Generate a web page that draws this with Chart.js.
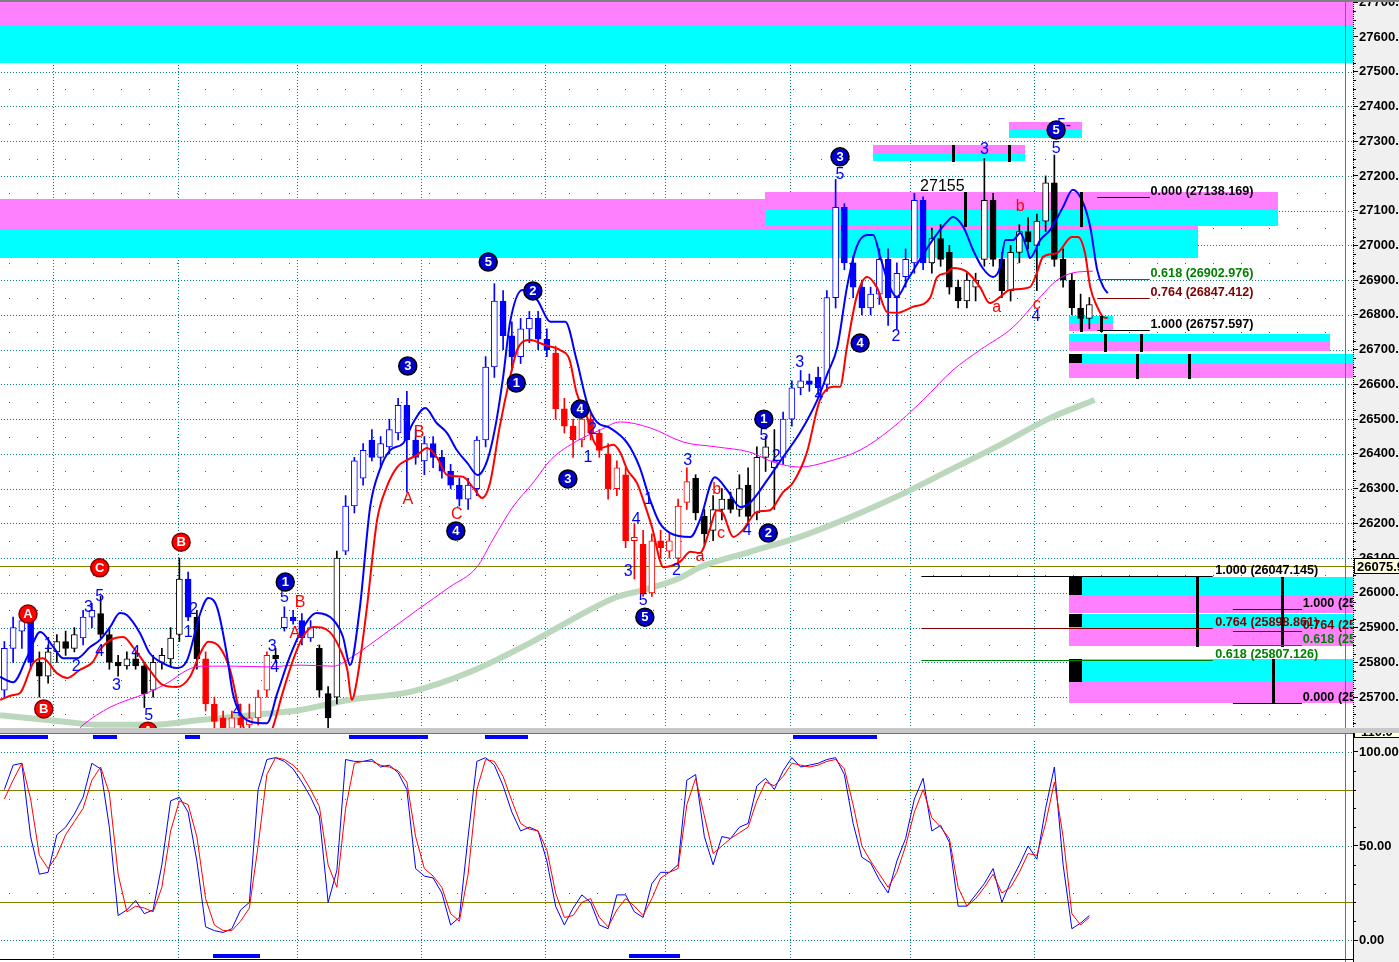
<!DOCTYPE html>
<html>
<head>
<meta charset="utf-8">
<script src="https://cdn.jsdelivr.net/npm/chart.js@4.4.1/dist/chart.umd.min.js"></script>
<style>
  html, body { margin: 0; padding: 0; width: 1399px; height: 962px; overflow: hidden; background: #c8c8c8; }
  #topline { position: absolute; left: 0; top: 0; width: 1399px; height: 2px; background: #808080; }
  #c1 { position: absolute; left: 0; top: 2px; }
  #c2 { position: absolute; left: 0; top: 733px; }
</style>
</head>
<body>
<div id="topline"></div>
<canvas id="c1" width="1399" height="726"></canvas>
<canvas id="c2" width="1399" height="229"></canvas>
<script>
'use strict';

// ── Price bars (one entry per bar) ───────────────────────────────────────────
const opens  = [25720,25840,25890,25920,25800,25760,25830,25860,25840,25870,25930,25940,25880,25800,25790,25810,25790,25720,25800,25810,
                25880,26040,25930,25810,25680,25640,25610,25640,25620,25640,25720,25820,25900,25930,25920,25870,25840,25710,25700,26120,
                26250,26330,26440,26390,26420,26460,26540,26440,26380,26430,26390,26350,26310,26270,26300,26440,26650,26840,26740,26680,
                26760,26790,26730,26690,26530,26480,26440,26500,26460,26400,26300,26340,26150,26140,26000,26150,26120,26100,26260,26330,
                26220,26180,26240,26270,26240,26310,26230,26390,26360,26390,26500,26590,26610,26620,26600,26850,27110,26950,26880,26820,
                26860,26960,26850,26910,26950,27130,26950,27020,26980,26880,26840,26880,26960,27130,26960,26870,26980,27040,27000,27070,
                27180,26960,26900,26820,26790];
const highs  = [25860,25930,25950,25940,25830,25850,25880,25890,25900,25950,25970,25990,25900,25820,25830,25830,25800,25820,25840,25900,
                26100,26060,25950,25830,25700,25660,25660,25680,25680,25720,25830,25840,25960,25950,25940,25920,25850,25730,26120,26280,
                26390,26430,26470,26450,26500,26560,26580,26470,26450,26450,26410,26370,26330,26330,26450,26680,26890,26870,26780,26790,
                26810,26810,26760,26710,26560,26500,26520,26520,26470,26430,26380,26360,26200,26180,26170,26180,26170,26270,26360,26340,
                26240,26280,26300,26290,26340,26360,26420,26450,26470,26520,26610,26640,26630,26650,26870,27190,27120,26970,26900,26880,
                26990,26990,26950,26990,27150,27140,27050,27060,27000,26900,26920,26920,27250,27150,26980,27000,27060,27080,27090,27200,
                27260,26990,26920,26860,26850];
const lows   = [25700,25800,25840,25780,25700,25740,25800,25820,25830,25850,25900,25870,25780,25760,25780,25780,25670,25700,25780,25790,
                25860,25920,25780,25660,25610,25590,25580,25600,25600,25620,25700,25800,25890,25910,25850,25860,25700,25600,25680,26110,
                26230,26310,26380,26360,26400,26440,26290,26370,26340,26360,26330,26300,26250,26240,26280,26420,26620,26700,26640,26660,
                26720,26700,26680,26500,26460,26390,26420,26440,26390,26270,26280,26130,26040,25990,25990,26100,26100,26080,26240,26210,
                26140,26150,26210,26230,26220,26200,26210,26350,26240,26370,26480,26570,26580,26570,26580,26820,26930,26850,26800,26800,
                26830,26770,26760,26880,26920,26930,26920,26940,26860,26820,26820,26840,26940,26940,26850,26840,26950,26990,26870,27040,
                26940,26880,26800,26760,26760];
const closes = [25840,25900,25920,25800,25760,25830,25860,25840,25880,25930,25950,25880,25800,25790,25810,25790,25710,25800,25820,25870,
                26040,25930,25810,25680,25630,25610,25640,25620,25640,25700,25820,25810,25930,25920,25870,25900,25720,25640,26100,26250,
                26380,26410,26390,26430,26470,26540,26440,26390,26430,26390,26350,26310,26270,26310,26440,26650,26840,26740,26680,26760,
                26790,26730,26700,26530,26480,26440,26500,26460,26410,26300,26360,26150,26160,26000,26150,26130,26150,26250,26320,26230,
                26170,26240,26270,26240,26300,26220,26390,26420,26380,26500,26590,26610,26600,26590,26850,27110,26950,26880,26820,26860,
                26960,26850,26920,26960,27130,26950,27020,26960,26880,26840,26900,26900,27130,26960,26870,26980,27040,27010,27070,27180,
                26960,26900,26820,26790,26830];

// ── Moving averages: [bar, price] ────────────────────────────────────────────
const fastAvg = [[-0.5,25758],[1.0,25743],[2.6,25815],[4.1,25887],[5.6,25844],[6.7,25812],[8.3,25812],[9.8,25844],[10.9,25864],[12.1,25902],
  [13.2,25942],[14.0,25936],[15.5,25884],[16.6,25827],[18.1,25798],[19.7,25784],[20.9,25807],[22.4,25942],[23.3,25985],[24.3,25959],
  [25.4,25827],[26.1,25712],[27.7,25634],[29.6,25625],[30.0,25625],[31.2,25712],[32.6,25815],[33.8,25884],[35.7,25942],[37.6,25922],
  [38.7,25873],[39.5,25792],[40.6,25951],[41.8,26247],[42.9,26354],[44.1,26411],[45.6,26431],[46.7,26489],[48.1,26532],[49.4,26489],
  [50.6,26460],[51.7,26411],[52.9,26374],[54.1,26339],[55.2,26382],[56.1,26477],[57.0,26621],[57.8,26780],[59.2,26872],[60.9,26843],
  [62.4,26780],[64.1,26780],[65.4,26670],[66.6,26547],[67.7,26492],[69.2,26475],[71.2,26431],[72.6,26362],[73.8,26267],[74.9,26201],
  [76.1,26172],[78.4,26161],[79.5,26210],[81.2,26333],[82.6,26296],[84.1,26247],[85.2,26259],[87.2,26325],[89.0,26391],[90.9,26460],
  [92.9,26555],[94.1,26633],[95.2,26708],[96.3,26880],[97.4,26996],[98.6,27030],[99.3,27030],[100.1,26967],[101.2,26880],[102.0,26852],
  [103.2,26900],[104.6,26958],[106.1,27016],[107.7,27067],[108.4,27082],[109.6,27053],[110.7,26987],[111.8,26935],[113.0,26909],[113.8,26938],
  [114.4,27016],[115.3,27016],[116.1,27036],[116.9,26987],[117.2,26964],[118.4,27016],[119.5,27044],[121.0,27111],[122.1,27160],[123.3,27122],
  [124.1,27053],[124.9,26929],[125.6,26880],[126.1,26863]];
const slowAvg = [[-0.5,25692],[1.0,25706],[1.8,25712],[3.3,25798],[4.4,25812],[6.0,25769],[7.2,25755],[8.6,25778],[10.1,25801],[10.9,25836],
  [12.1,25864],[13.6,25873],[14.7,25844],[16.6,25778],[18.1,25735],[19.7,25729],[21.2,25758],[22.4,25827],[23.3,25859],[24.6,25844],
  [25.8,25778],[26.9,25654],[27.8,25576],[29.2,25519],[30.7,25614],[31.8,25712],[33.0,25807],[34.1,25873],[35.3,25902],[37.2,25887],
  [38.4,25836],[39.2,25778],[39.7,25692],[40.3,25749],[41.4,25951],[42.6,26210],[43.7,26305],[44.9,26362],[46.0,26382],[47.2,26397],
  [48.3,26417],[49.4,26391],[50.6,26339],[52.4,26334],[53.6,26302],[54.6,26273],[55.5,26316],[56.6,26477],[57.8,26621],[58.6,26699],
  [60.1,26728],[61.8,26713],[63.5,26699],[64.6,26670],[65.4,26575],[66.6,26506],[67.3,26440],[68.1,26417],[69.6,26426],[70.4,26403],
  [71.2,26354],[72.3,26316],[73.4,26238],[74.1,26181],[74.9,26095],[75.3,26074],[77.2,26089],[78.4,26118],[79.5,26115],[80.6,26181],
  [81.4,26238],[82.1,26230],[83.3,26161],[84.4,26181],[86.0,26233],[87.5,26238],[89.0,26290],[90.1,26316],[91.7,26403],[93.2,26555],
  [94.7,26593],[95.5,26593],[96.3,26708],[97.4,26852],[98.6,26909],[99.7,26880],[100.9,26808],[102.0,26806],[103.8,26823],[105.8,26849],
  [106.6,26909],[107.7,26921],[108.4,26935],[110.0,26924],[111.5,26880],[112.6,26834],[113.8,26852],[114.9,26872],[117.2,26880],[118.0,26921],
  [118.7,26967],[120.3,26978],[122.0,27024],[122.7,27024],[123.5,26978],[124.1,26880],[124.9,26823],[125.6,26794],[126.1,26791]];
const midAvg = [[8.2,25600],[9.0,25620],[12.1,25671],[16.3,25712],[18.6,25740],[20.9,25778],[22.4,25789],[26.1,25789],[30.0,25787],[33.8,25792],
  [37.6,25789],[39.5,25812],[43.3,25879],[47.2,25951],[50.9,26017],[54.0,26074],[55.8,26152],[58.1,26247],[60.4,26316],[62.4,26382],
  [65.0,26431],[68.1,26469],[70.4,26492],[73.8,26475],[77.6,26434],[81.4,26420],[85.2,26405],[87.8,26377],[90.9,26362],[94.0,26377],
  [97.8,26411],[101.2,26469],[105.0,26555],[108.4,26641],[111.5,26699],[115.3,26765],[118.4,26852],[120.3,26900],[122.1,26921],[124.4,26926]];
const longAvg = [[-0.5,25648],[7.2,25628],[10.9,25620],[16.6,25620],[22.4,25634],[28.1,25648],[33.8,25663],[39.5,25692],[46.4,25715],[53.2,25772],
  [60.1,25856],[66.9,25951],[70.0,25988],[73.0,26008],[77.2,26043],[79.5,26074],[85.2,26118],[90.9,26161],[97.8,26230],[102.4,26282],
  [108.1,26354],[113.8,26426],[119.5,26503],[124.6,26555]];

// ── Stochastic (one entry per bar) ───────────────────────────────────────────
const stochK = [80,93,94,55,35,36,56,60,67,76,94,91,60,13,16,21,14,16,40,74,
                76,68,42,7,5,4,6,16,20,80,96,97,95,91,84,76,66,20,37,96,
                95,95,96,92,93,89,80,38,34,33,25,8,12,55,95,97,93,82,68,58,
                60,58,42,18,8,17,24,20,8,6,24,24,15,12,30,36,36,40,85,88,
                55,40,55,54,60,62,82,86,80,90,97,92,93,94,96,97,88,62,44,41,
                32,25,42,54,75,86,58,61,52,18,18,24,30,38,20,31,40,50,43,70,
                92,40,6,9,13];
const stochD = [75,85,94,75,45,38,45,56,63,70,85,92,78,35,15,18,17,15,28,58,
                74,72,55,22,8,5,5,10,17,50,88,97,96,93,88,80,71,40,28,70,
                94,95,95,93,92,90,84,55,38,34,28,14,10,35,80,96,95,87,74,62,
                59,58,48,25,12,13,20,22,12,7,16,22,18,13,22,33,36,38,72,86,
                66,46,50,54,57,60,74,84,82,87,94,93,92,93,95,96,91,72,50,42,
                35,28,36,50,68,80,65,60,54,28,18,22,28,35,25,28,36,46,45,62,
                84,55,14,8,12];

// ── Axes ─────────────────────────────────────────────────────────────────────
const priceTicks = [25700,25800,25900,26000,26100,26200,26300,26400,26500,26600,26700,
                    26800,26900,27000,27100,27200,27300,27400,27500,27600,27700];
const stochTicks = [0, 50, 100];
const stochBands = [20, 80];
const gridBars   = [5.6, 19.8, 33.4, 47.6, 61.8, 75.5, 89.8, 103.5, 117.7];
const lastPrice  = 26075.9;
const nowBar     = 153.2;

// ── Zones: [kind, fromBar, toBar, low, high]  (m = magenta, c = cyan, k = black)
const zones = [
  ['m', -0.5, 155, 27635, 27710], ['c', -0.5, 155, 27525, 27635],
  ['m', -0.5, 136.4, 27048, 27134], ['c', -0.5, 136.4, 26964, 27048],
  ['m', 86.9, 145.6, 27105, 27154], ['c', 86.9, 145.6, 27056, 27105],
  ['m', 99.3, 116.6, 27266, 27289], ['c', 99.3, 116.6, 27243, 27266],
  ['m', 114.8, 123.2, 27332, 27355], ['c', 114.8, 123.2, 27309, 27332],
  ['c', 121.7, 126.7, 26777, 26797], ['m', 121.7, 126.7, 26754, 26777],
  ['c', 121.7, 151.5, 26722, 26745], ['m', 121.7, 151.5, 26696, 26722],
  ['c', 121.7, 155, 26662, 26688], ['m', 121.7, 155, 26618, 26662], ['k', 121.7, 123.2, 26662, 26688],
  ['c', 121.7, 155, 25994, 26046], ['m', 121.7, 155, 25942, 25994], ['k', 121.7, 123.2, 25994, 26046],
  ['c', 121.7, 155, 25902, 25939], ['m', 121.7, 155, 25847, 25902], ['k', 121.7, 123.2, 25902, 25939],
  ['c', 121.7, 155, 25743, 25810], ['m', 121.7, 155, 25683, 25743], ['k', 121.7, 123.2, 25743, 25810],
];
// thick markers: [bar, low, high]
const stems = [[108.4,27240,27289],[114.8,27240,27289],[109.8,27053,27154],[123.0,27053,27154],
               [123.0,26751,26797],[125.3,26751,26797],[125.8,26693,26745],[129.9,26693,26745],
               [129.4,26616,26688],[135.4,26616,26688],[136.3,25844,26046],[146.0,25844,26046],[145.0,25683,25810]];

// ── Fibonacci levels ─────────────────────────────────────────────────────────
const fibUpperRatios = ['0.000', '0.618', '0.764', '1.000'];
const fibUpperPrices = [27138.169, 26902.976, 26847.412, 26757.597];
const fibLowerRatios = ['1.000', '0.764', '0.618'];
const fibLowerPrices = [26047.145, 25898.861, 25807.126];
const fibSideRatios  = ['1.000', '0.764', '0.618', '0.000'];
const fibSidePrices  = [25953.310, 25890.474, 25850.062, 25683.540];

// ── Wave labels: [bar, price, text] ──────────────────────────────────────────
const blueCircles = [[32.1,26031,'1'],[46.1,26653,'3'],[51.6,26178,'4'],[55.3,26952,'5'],[58.5,26604,'1'],[60.4,26869,'2'],
                     [64.4,26328,'3'],[65.8,26529,'4'],[73.2,25930,'5'],[86.8,26500,'1'],[87.3,26172,'2'],[95.5,27255,'3'],
                     [97.8,26719,'4'],[120.2,27332,'5']];
const redCircles  = [[2.7,25939,'A'],[4.5,25666,'B'],[10.9,26072,'C'],[20.2,26146,'B'],[16.4,25602,'A']];
const blueMarks   = [[5.0,25850,'1'],[8.2,25787,'2'],[9.6,25959,'3'],[10.9,25988,'5'],[10.9,25830,'4'],[12.8,25732,'3'],
                     [15.0,25827,'4'],[16.5,25648,'5'],[21.0,25887,'1'],[21.6,25951,'2'],[26.6,25657,'4'],[30.6,25844,'3'],
                     [30.9,25784,'4'],[32.0,25985,'5'],[67.2,26469,'2'],[66.7,26388,'1'],[73.6,26267,'1'],[72.2,26210,'4'],
                     [71.3,26060,'3'],[73.0,25979,'5'],[76.8,26063,'2'],[78.1,26382,'3'],[84.9,26178,'4'],[86.8,26454,'5'],
                     [88.2,26391,'2'],[90.9,26664,'3'],[93.1,26569,'4'],[95.5,27203,'5'],[101.9,26739,'2'],[112.0,27275,'3'],
                     [117.9,26794,'4'],[120.2,27280,'5'],[121.1,27344,'5-']];
const redMarks    = [[33.2,25884,'A'],[33.8,25971,'B'],[46.1,26267,'A'],[47.4,26460,'B'],[51.7,26224,'C'],[79.5,26103,'a'],
                     [81.4,26296,'b'],[81.9,26172,'c'],[113.4,26820,'a'],[116.1,27111,'b'],[118.0,26831,'c']];
const priceNotes  = [[107.2,27168,'27155']];

// ── Cycle markers: [fromBar, toBar] ──────────────────────────────────────────
const topCycles    = [[-0.5,5.0],[10.1,12.9],[20.6,22.4],[39.4,48.4],[54.9,59.8],[90.1,99.7]];
const bottomCycles = [[23.8,29.2],[71.4,77.2]];

// ── Styles ───────────────────────────────────────────────────────────────────
const FONT = '"Liberation Sans", Arial, sans-serif';
const BLUE = '#0000ff', RED = '#ff0000', BLACK = '#000000';
const candleSegments = [[0,3,BLUE],[4,8,BLACK],[9,10,BLUE],[11,20,BLACK],[21,21,BLUE],[22,22,BLACK],[23,30,RED],
                        [31,31,BLACK],[32,35,BLUE],[36,38,BLACK],[39,62,BLUE],[63,78,RED],[79,88,BLACK],[89,105,BLUE],[106,124,BLACK]];
const zoneFill   = { m: '#ff80ff', c: '#00ffff', k: '#000000' };
const fibColour  = { '0.000': '#000000', '1.000': '#000000', '0.618': '#008000', '0.764': '#800000' };

Chart.defaults.font.family = FONT;

function candleColor(i) {
  const s = candleSegments.find(s => i >= s[0] && i <= s[1]);
  return s ? s[2] : BLACK;
}

function dotRow(ctx, x0, x1, y, step) {
  y = Math.round(y);
  for (let x = x0; x < x1; x += step) ctx.fillRect(Math.round(x), y, 1, 1);
}
function dotCol(ctx, x, y0, y1, step) {
  x = Math.round(x);
  for (let y = y0; y < y1; y += step) ctx.fillRect(x, Math.round(y), 1, 1);
}
function clipArea(ctx, a) {
  ctx.beginPath(); ctx.rect(a.left, a.top, a.right - a.left, a.bottom - a.top); ctx.clip();
}
function circleLabel(ctx, x, y, txt, fill, ring) {
  ctx.beginPath(); ctx.arc(x, y, 9, 0, Math.PI * 2);
  ctx.fillStyle = fill; ctx.fill();
  ctx.lineWidth = 1.5; ctx.strokeStyle = ring; ctx.stroke();
  ctx.fillStyle = '#ffffff'; ctx.font = 'bold 13px ' + FONT;
  ctx.textAlign = 'center'; ctx.textBaseline = 'middle';
  ctx.fillText(txt, x, y + 0.5);
}
function drawFib(ctx, xs, ys, ratios, prices, b0, b1, bText) {
  ctx.font = 'bold 12.6px ' + FONT; ctx.textAlign = 'left'; ctx.textBaseline = 'alphabetic'; ctx.lineWidth = 1;
  ratios.forEach((r, i) => {
    const y = Math.round(ys.getPixelForValue(prices[i])) + 0.5;
    ctx.strokeStyle = ctx.fillStyle = fibColour[r];
    ctx.beginPath(); ctx.moveTo(xs.getPixelForValue(b0), y); ctx.lineTo(xs.getPixelForValue(b1), y); ctx.stroke();
    ctx.fillText(`${r} (${prices[i].toFixed(3)})`, xs.getPixelForValue(bText), y - 3);
  });
}
function axisText(ctx) {
  ctx.fillStyle = BLACK; ctx.font = 'bold 13px ' + FONT; ctx.textAlign = 'left'; ctx.textBaseline = 'middle';
}

// ── Main price panel ─────────────────────────────────────────────────────────
const mainDeco = {
  id: 'mainDeco',
  beforeDraw(chart) {
    const { ctx, chartArea: a, scales: { x: xs, y: ys } } = chart;
    ctx.save();
    ctx.fillStyle = '#ffffff'; ctx.fillRect(0, 0, chart.width, chart.height);
    ctx.fillStyle = '#f0f0f0'; ctx.fillRect(a.right, 0, chart.width - a.right, chart.height);
    clipArea(ctx, a);
    ctx.fillStyle = '#008080';
    priceTicks.forEach(p => dotRow(ctx, a.left + 1, a.right, ys.getPixelForValue(p), 3));
    priceTicks.forEach(p => dotRow(ctx, a.left + 9, a.right, ys.getPixelForValue(p - 50), 28));
    gridBars.forEach(b => dotCol(ctx, xs.getPixelForValue(b), a.top, a.bottom, 3));
    zones.forEach(([k, b0, b1, lo, hi]) => {
      const x0 = Math.round(xs.getPixelForValue(b0)), x1 = Math.round(xs.getPixelForValue(b1));
      const y0 = Math.round(ys.getPixelForValue(hi)), y1 = Math.round(ys.getPixelForValue(lo));
      ctx.fillStyle = zoneFill[k];
      ctx.fillRect(x0, y0, x1 - x0, y1 - y0);
    });
    ctx.fillStyle = '#808000';
    ctx.fillRect(a.left, Math.round(ys.getPixelForValue(lastPrice)), a.right - a.left, 1);
    ctx.fillRect(Math.round(xs.getPixelForValue(nowBar)), a.top, 1, a.bottom - a.top);
    ctx.restore();
  },
  afterDatasetsDraw(chart) {
    const { ctx, chartArea: a, scales: { x: xs, y: ys } } = chart;
    ctx.save();
    clipArea(ctx, a);
    ctx.fillStyle = BLACK;
    stems.forEach(([b, lo, hi]) => {
      const x = Math.round(xs.getPixelForValue(b)) - 1;
      const y0 = Math.round(ys.getPixelForValue(hi)), y1 = Math.round(ys.getPixelForValue(lo));
      ctx.fillRect(x, y0, 3, y1 - y0);
    });
    drawFib(ctx, xs, ys, fibUpperRatios, fibUpperPrices, 124.9, 130.9, 131.0);
    drawFib(ctx, xs, ys, fibLowerRatios, fibLowerPrices, 104.8, 138.1, 138.4);
    drawFib(ctx, xs, ys, fibSideRatios, fibSidePrices, 140.4, 148.3, 148.4);

    ctx.font = '16px ' + FONT; ctx.textAlign = 'center'; ctx.textBaseline = 'middle';
    ctx.fillStyle = BLUE;
    blueMarks.forEach(([b, p, t]) => ctx.fillText(t, xs.getPixelForValue(b), ys.getPixelForValue(p)));
    ctx.fillStyle = RED;
    redMarks.forEach(([b, p, t]) => ctx.fillText(t, xs.getPixelForValue(b), ys.getPixelForValue(p)));
    ctx.fillStyle = BLACK;
    ctx.font = '16px ' + FONT;
    priceNotes.forEach(([b, p, t]) => ctx.fillText(t, xs.getPixelForValue(b), ys.getPixelForValue(p)));
    blueCircles.forEach(([b, p, t]) => circleLabel(ctx, xs.getPixelForValue(b), ys.getPixelForValue(p), t, '#0000c8', BLACK));
    redCircles.forEach(([b, p, t]) => circleLabel(ctx, xs.getPixelForValue(b), ys.getPixelForValue(p), t, '#ff0000', '#800000'));
    ctx.restore();
  },
  afterDraw(chart) {
    const { ctx, chartArea: a, scales: { y: ys } } = chart;
    ctx.save();
    ctx.fillStyle = BLACK;
    for (let y = a.top; y < a.bottom; y += 2) ctx.fillRect(a.right, y, 1, 1);
    priceTicks.forEach(t => [25, 50, 75].forEach(off => {
      ctx.fillRect(a.right, Math.round(ys.getPixelForValue(t - off)), 3, 1);
    }));
    const y = Math.round(ys.getPixelForValue(lastPrice));
    ctx.fillStyle = '#ffffe0'; ctx.fillRect(a.right + 1, y - 8, chart.width - a.right, 16);
    ctx.strokeStyle = BLACK; ctx.lineWidth = 1; ctx.strokeRect(a.right + 1.5, y - 7.5, chart.width - a.right, 15);
    axisText(ctx);
    ctx.fillText(lastPrice.toFixed(1), a.right + 4, y + 1);
    ctx.restore();
  }
};

new Chart(document.getElementById('c1'), {
  type: 'bar',
  data: {
    datasets: [
      { type: 'line', label: 'fast', data: fastAvg.map(([x, y]) => ({ x, y })), borderColor: BLUE, borderWidth: 2,
        pointRadius: 0, cubicInterpolationMode: 'monotone', order: 0 },
      { type: 'line', label: 'slow', data: slowAvg.map(([x, y]) => ({ x, y })), borderColor: RED, borderWidth: 2,
        pointRadius: 0, cubicInterpolationMode: 'monotone', order: 1 },
      { type: 'line', label: 'mid', data: midAvg.map(([x, y]) => ({ x, y })), borderColor: '#ff00ff', borderWidth: 1,
        pointRadius: 0, cubicInterpolationMode: 'monotone', order: 2 },
      { type: 'bar', label: 'body', data: opens.map((o, i) => ({ x: i, y: [o, closes[i]] })),
        barThickness: 6, grouped: false, minBarLength: 1, borderWidth: 1, borderSkipped: false,
        backgroundColor: c => closes[c.dataIndex] < opens[c.dataIndex] ? candleColor(c.dataIndex) : '#ffffff',
        borderColor: c => candleColor(c.dataIndex), order: 3 },
      { type: 'bar', label: 'wick', data: highs.map((h, i) => ({ x: i, y: [lows[i], h] })),
        barThickness: 1, grouped: false, borderWidth: 0,
        backgroundColor: c => candleColor(c.dataIndex), order: 4 },
      { type: 'line', label: 'long', data: longAvg.map(([x, y]) => ({ x, y })), borderColor: '#bcd8bc', borderWidth: 6,
        pointRadius: 0, cubicInterpolationMode: 'monotone', order: 5 },
    ]
  },
  options: {
    responsive: false, animation: false, devicePixelRatio: 1,
    layout: { padding: 0 },
    plugins: { legend: { display: false }, tooltip: { enabled: false } },
    scales: {
      x: { type: 'linear', display: false, min: -0.5, max: 154.13, offset: false },
      y: {
        position: 'right', min: 25611, max: 27700.7,
        afterBuildTicks: s => { s.ticks = priceTicks.map(v => ({ value: v })); },
        afterFit: s => { s.width = 46; s.paddingTop = 0; s.paddingBottom = 0; },
        grid: { drawOnChartArea: false, drawTicks: true, tickLength: 5, tickColor: BLACK, color: BLACK },
        border: { display: false },
        ticks: { padding: 1, color: BLACK, autoSkip: false, font: { family: FONT, size: 13, weight: 'bold' },
                 callback: v => Number(v).toFixed(1) }
      }
    }
  },
  plugins: [mainDeco]
});

// ── Stochastic panel ─────────────────────────────────────────────────────────
const stochDeco = {
  id: 'stochDeco',
  beforeDraw(chart) {
    const { ctx, chartArea: a, scales: { x: xs, y: ys } } = chart;
    ctx.save();
    ctx.fillStyle = '#ffffff'; ctx.fillRect(0, 0, chart.width, chart.height);
    ctx.fillStyle = '#f0f0f0'; ctx.fillRect(a.right, 0, chart.width - a.right, chart.height);
    clipArea(ctx, a);
    ctx.fillStyle = '#008080';
    stochTicks.forEach(v => dotRow(ctx, a.left + 1, a.right, ys.getPixelForValue(v), 3));
    stochTicks.slice(1).forEach(v => dotRow(ctx, a.left + 9, a.right, ys.getPixelForValue(v - 25), 28));
    gridBars.forEach(b => dotCol(ctx, xs.getPixelForValue(b), a.top + 8, a.bottom - 4, 3));
    ctx.fillStyle = '#808000';
    stochBands.forEach(v => ctx.fillRect(a.left, Math.round(ys.getPixelForValue(v)), a.right - a.left, 1));
    ctx.fillRect(a.left, Math.round(ys.getPixelForValue(110)), a.right - a.left, 1);
    ctx.fillRect(Math.round(xs.getPixelForValue(nowBar)), a.top, 1, a.bottom - a.top);
    ctx.fillStyle = BLUE;
    topCycles.forEach(([b0, b1]) => {
      const x0 = Math.round(xs.getPixelForValue(b0)), x1 = Math.round(xs.getPixelForValue(b1));
      ctx.fillRect(x0, Math.round(ys.getPixelForValue(109)), x1 - x0, 4);
    });
    bottomCycles.forEach(([b0, b1]) => {
      const x0 = Math.round(xs.getPixelForValue(b0)), x1 = Math.round(xs.getPixelForValue(b1));
      ctx.fillRect(x0, Math.round(ys.getPixelForValue(-7.5)), x1 - x0, 4);
    });
    ctx.restore();
  },
  afterDraw(chart) {
    const { ctx, chartArea: a, scales: { y: ys } } = chart;
    ctx.save();
    ctx.fillStyle = BLACK;
    ctx.fillRect(a.right, a.top, 1, a.bottom - a.top);
    ctx.fillRect(a.left, a.bottom - 3, a.right - a.left, 1);
    stochTicks.forEach(t => [10, 20, 30, 40].forEach(off => {
      if (t + off <= 110) ctx.fillRect(a.right, Math.round(ys.getPixelForValue(t + off)), 3, 1);
    }));
    ctx.fillStyle = '#ffffe0'; ctx.fillRect(a.right + 1, -6, chart.width - a.right, 11);
    ctx.strokeStyle = BLACK; ctx.lineWidth = 1; ctx.strokeRect(a.right + 1.5, -5.5, chart.width - a.right, 10);
    axisText(ctx);
    ctx.fillText('110.0', a.right + 8, -1);
    ctx.restore();
  }
};

new Chart(document.getElementById('c2'), {
  type: 'line',
  data: {
    datasets: [
      { label: '%D', data: stochD.map((v, i) => ({ x: i, y: v })), borderColor: RED, borderWidth: 1, pointRadius: 0, order: 0 },
      { label: '%K', data: stochK.map((v, i) => ({ x: i, y: v })), borderColor: BLUE, borderWidth: 1, pointRadius: 0, order: 1 },
    ]
  },
  options: {
    responsive: false, animation: false, devicePixelRatio: 1,
    layout: { padding: 0 },
    plugins: { legend: { display: false }, tooltip: { enabled: false } },
    scales: {
      x: { type: 'linear', display: false, min: -0.5, max: 154.13, offset: false },
      y: {
        position: 'right', min: -11.7, max: 110.1,
        afterBuildTicks: s => { s.ticks = stochTicks.map(v => ({ value: v })); },
        afterFit: s => { s.width = 46; s.paddingTop = 0; s.paddingBottom = 0; },
        grid: { drawOnChartArea: false, drawTicks: true, tickLength: 5, tickColor: BLACK, color: BLACK },
        border: { display: false },
        ticks: { padding: 1, color: BLACK, autoSkip: false, font: { family: FONT, size: 13, weight: 'bold' },
                 callback: v => Number(v).toFixed(2) }
      }
    }
  },
  plugins: [stochDeco]
});
</script>
</body>
</html>
